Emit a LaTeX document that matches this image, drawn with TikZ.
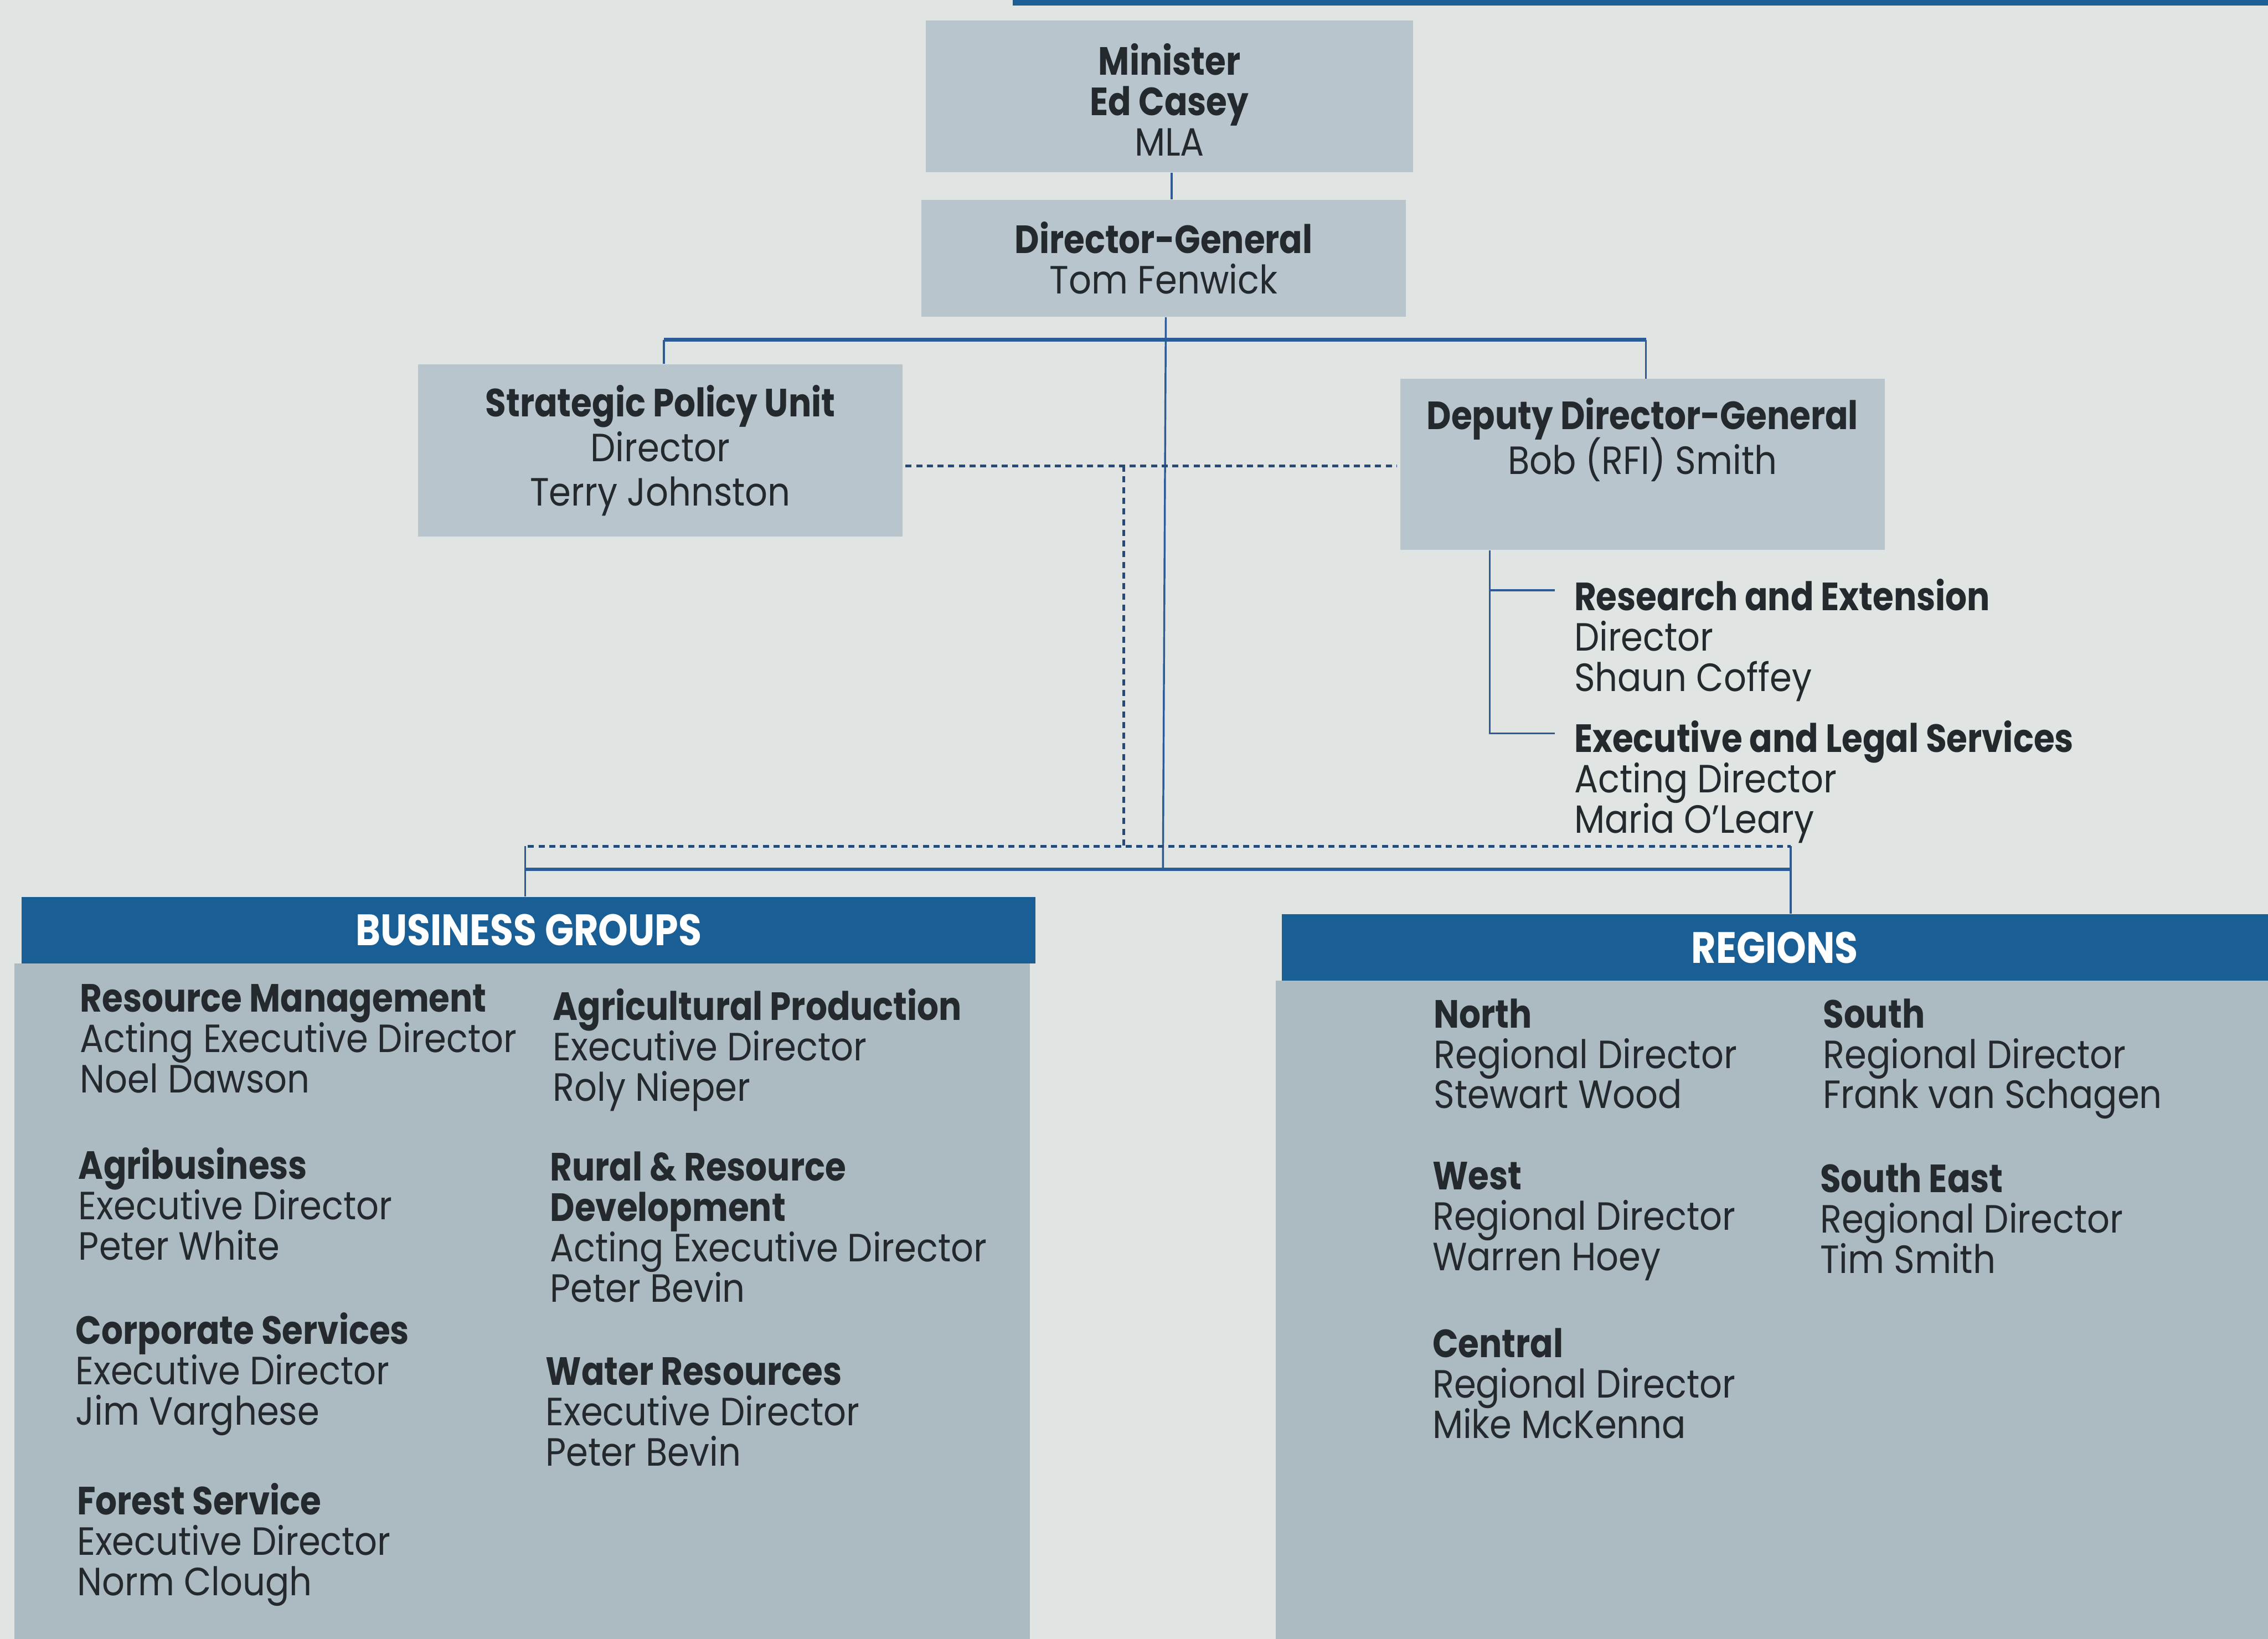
\documentclass[tikz,border=0pt]{standalone}
\usepackage{fontspec}
\setmainfont{Poppins}[FakeStretch=0.90, BoldFeatures={FakeStretch=0.86}]
\usetikzlibrary{calc}
\definecolor{paper}{HTML}{E0E4E3}
\definecolor{boxfill}{HTML}{B9C5CC}
\definecolor{panel}{HTML}{ACBAC1}
\definecolor{hdr}{HTML}{1A5E96}
\definecolor{linec}{HTML}{2C5C98}
\definecolor{ink}{HTML}{23292D}
\newcommand{\txtfont}{\fontsize{15.5}{15.9}\selectfont\lineskiplimit=-30pt\relax}
\tikzset{
  topbox/.style={fill=boxfill, draw=none, inner sep=0pt, align=center, text=ink,
    font=\txtfont},
  boxtext/.style={inner sep=0pt, align=center, text=ink, font=\txtfont},
  grp/.style={inner sep=0pt, align=left, anchor=north west, text=ink,
    font=\txtfont},
  hdrbox/.style={fill=hdr, inner sep=0pt, text=white, font=\fontsize{17.3}{17}\selectfont\bfseries},
  thin/.style={draw=linec, line width=0.75pt},
  thick/.style={draw=linec, line width=1.5pt},
  dot/.style={draw=linec!80!black, line width=1.1pt, dash pattern=on 2.4pt off 1.8pt},
}
\begin{document}
\begin{tikzpicture}[x=0.02cm,y=-0.02cm]
\useasboundingbox (0,0) rectangle (1568,1133);
\fill[paper] (0,0) rectangle (1568,1133);
\fill[hdr] (700,0) rectangle (1568,4);
% panels
\fill[panel] (10,666) rectangle (712,1133);
\fill[panel] (882,678) rectangle (1568,1133);
\node[hdrbox, minimum width=14.02cm, minimum height=0.92cm] (bg) at (365.5,643) {BUSINESS GROUPS};
\node[hdrbox, minimum width=13.64cm, minimum height=0.92cm] (rg) at (1227,655) {REGIONS};
% top boxes
\node[topbox, minimum width=6.74cm, minimum height=2.10cm] (min) at (808.5,66.5) {};
\node[boxtext] (mint) at (808.5,69) {\textbf{Minister}\\\textbf{Ed Casey}\\MLA};
\node[topbox, minimum width=6.70cm, minimum height=1.62cm] (dg) at (804.5,178.5)
  {\textbf{Director-General}\\Tom Fenwick};
\node[topbox, minimum width=6.70cm, minimum height=2.38cm] (spu) at (456.5,311.5)
  {\textbf{Strategic Policy Unit}\\[1.6pt]Director\\[1.6pt]Terry Johnston};
\node[topbox, minimum width=6.70cm, minimum height=2.36cm] (ddg) at (1135.5,321) {};
\node[boxtext] (ddgt) at (1135.5,304) {\textbf{Deputy Director-General}\\[1.8pt]Bob (RFI) Smith};
% coordinates
\coordinate (barL) at (459,235);
\coordinate (barR) at (1138,235);
\coordinate (trunkTop) at (806,235);
\coordinate (trunkBot) at (804,601);
\coordinate (dashL) at (626,322);
\coordinate (dashR) at (966,322);
\coordinate (dashV) at (777,322);
\coordinate (dashVb) at (777,585);
\coordinate (lowDL) at (365,585);
\coordinate (lowDR) at (1238,585);
\coordinate (lowL) at (363,601);
\coordinate (lowR) at (1238,601);
\coordinate (brTop) at (1030,380);
\coordinate (brMid) at (1030,408);
\coordinate (brBot) at (1030,507);
\coordinate (re) at (1075,408);
\coordinate (el) at (1075,507);
% solid connectors
\draw[thin] (min.south -| 810,0) -- (dg.north -| 810,0);
\draw[thin] (dg.south -| trunkTop) -- (trunkBot);
\draw[thick] (barL) -- (barR);
\draw[thin] (barL) -- (spu.north -| barL);
\draw[thin] (barR) -- (ddg.north -| barR);
\draw[thick] (lowL) -- (lowR);
\draw[thin] (lowDL -| lowL) -- (bg.north -| lowL);
\draw[thin] (lowDR) -- (rg.north -| lowR);
\draw[thin] (ddg.south -| brTop) -- (brBot) -- (el);
\draw[thin] (brMid) -- (re);
% dashed connectors
\draw[dot] (dashL) -- (dashR);
\draw[dot] (dashV) -- (dashVb);
\draw[dot] (lowDL) -- (lowDR);
% DDG subordinates
\node[grp] (res) at (1088,400) {\textbf{Research and Extension}\\Director\\Shaun Coffey};
\node[grp] (els) at (1088,498) {\textbf{Executive and Legal Services}\\Acting Director\\Maria O'Leary};
% business groups
\node[grp] (rm) at (55,680) {\textbf{Resource Management}\\Acting Executive Director\\Noel Dawson};
\node[grp] (ab) at (54,793) {\textbf{Agribusiness}\\Executive Director\\Peter White};
\node[grp] (cs) at (52,907) {\textbf{Corporate Services}\\Executive Director\\Jim Varghese};
\node[grp] (fs) at (53,1025) {\textbf{Forest Service}\\Executive Director\\Norm Clough};
\node[grp] (ap) at (382,683) {\textbf{Agricultural Production}\\Executive Director\\Roly Nieper};
\node[grp] (rr) at (380,796) {\textbf{Rural \& Resource}\\\textbf{Development}\\Acting Executive Director\\Peter Bevin};
\node[grp] (wr) at (377,938) {\textbf{Water Resources}\\Executive Director\\Peter Bevin};
% regions
\node[grp] (no) at (991,690) {\textbf{North}\\Regional Director\\Stewart Wood};
\node[grp] (we) at (990,803) {\textbf{West}\\Regional Director\\Warren Hoey};
\node[grp] (ce) at (990,918) {\textbf{Central}\\Regional Director\\Mike McKenna};
\node[grp] (so) at (1260,690) {\textbf{South}\\Regional Director\\Frank van Schagen};
\node[grp] (se) at (1258,804) {\textbf{South East}\\Regional Director\\Tim Smith};
\end{tikzpicture}
\end{document}
